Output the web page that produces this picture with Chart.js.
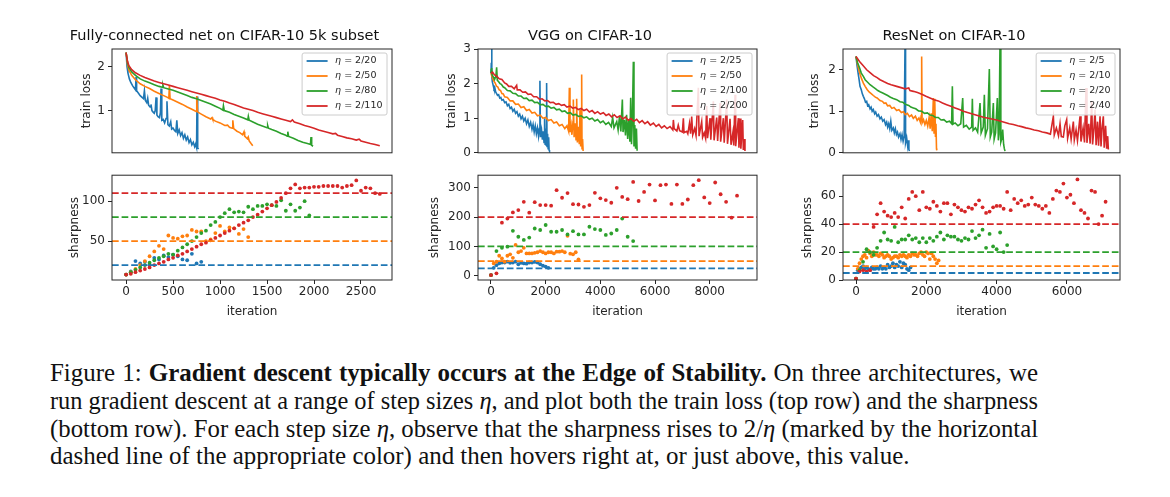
<!DOCTYPE html>
<html lang="en">
<head>
<meta charset="UTF-8">
<meta name="viewport" content="width=device-width, initial-scale=1.0">
<title>Figure 1: Edge of Stability</title>
<script src="https://cdn.jsdelivr.net/npm/chart.js@4.4.1/dist/chart.umd.min.js"></script>
<style>
    html, body { margin: 0; padding: 0; background: #fff; }
    body { width: 1170px; height: 497px; position: relative; overflow: hidden; }
    canvas.panel { position: absolute; }
    #caption {
        position: absolute; left: 50px; top: 359px; width: 1100px;
        font-family: "Liberation Serif", "Times New Roman", serif;
        font-size: 20px; line-height: 27.8px; color: #111;
    }
    #caption .ln { white-space: nowrap; }
    #caption .ln > span { display: inline-block; transform-origin: 0 50%; }
</style>
</head>
<body>

<canvas class="panel" id="fcLoss"></canvas>
<canvas class="panel" id="vggLoss"></canvas>
<canvas class="panel" id="resLoss"></canvas>
<canvas class="panel" id="fcSharp"></canvas>
<canvas class="panel" id="vggSharp"></canvas>
<canvas class="panel" id="resSharp"></canvas>

<div id="caption">
    <div class="ln"><span>Figure 1: <b>Gradient descent typically occurs at the Edge of Stability.</b> On three architectures, we</span></div>
    <div class="ln"><span>run gradient descent at a range of step sizes <i>η</i>, and plot both the train loss (top row) and the sharpness</span></div>
    <div class="ln"><span>(bottom row). For each step size <i>η</i>, observe that the sharpness rises to 2/<i>η</i> (marked by the horizontal</span></div>
    <div class="ln"><span>dashed line of the appropriate color) and then hovers right at, or just above, this value.</span></div>
</div>

<script>
    // ---------------- data ----------------
    // step sizes and the 2/eta thresholds
    const etaFC  = ['2/20', '2/50', '2/80', '2/110'];
    const etaVGG = ['2/25', '2/50', '2/100', '2/200'];
    const etaRes = ['2/5', '2/10', '2/20', '2/40'];
    const edgeFC  = [20, 50, 80, 110];
    const edgeVGG = [25, 50, 100, 200];
    const edgeRes = [5, 10, 20, 40];

    // tick labels
    const fcLossTicks  = [1, 2];
    const fcSharpTicks = [50, 100];
    const fcIterTicks  = [0, 500, 1000, 1500, 2000, 2500];
    const vggLossTicks  = [0, 1, 2, 3];
    const vggSharpTicks = [0, 100, 200, 300];
    const vggIterTicks  = [0, 2000, 4000, 6000, 8000];
    const resLossTicks  = [0, 1, 2];
    const resSharpTicks = [0, 20, 40, 60];
    const resIterTicks  = [0, 2000, 4000, 6000];

    // train loss curves, [iteration, loss]
    const fcLoss20 = [[0,2.32],[10,2.0],[20,1.85],[35,1.72],[50,1.64],[70,1.56],[90,1.50],[100,1.47],[106,1.76],[112,1.45],[130,1.40],[150,1.34],[170,1.30],[185,1.27],[195,1.45],[205,1.23],[220,1.18],[230,1.28],[240,1.12],[255,1.08],[265,1.14],[275,1.00],[290,0.96],[300,0.94],[310,1.00],[319,1.30],[328,0.90],[340,0.86],[355,0.84],[365,0.95],[372,1.50],[380,0.78],[395,0.80],[410,0.72],[425,0.82],[435,1.21],[445,0.68],[460,0.65],[475,0.75],[485,0.58],[500,0.60],[515,0.55],[530,0.52],[540,0.78],[550,0.48],[565,0.56],[580,0.43],[595,0.50],[610,0.37],[625,0.45],[640,0.33],[655,0.40],[670,0.27],[685,0.34],[700,0.22],[715,0.28],[730,0.18],[740,0.24],[750,0.16],[755,1.32],[762,0.15],[773,0.13]];
    const fcLoss50 = [[0,2.32],[15,2.05],[30,1.92],[60,1.80],[100,1.70],[150,1.61],[200,1.55],[250,1.50],[300,1.44],[350,1.39],[400,1.34],[440,1.30],[455,1.28],[461,1.58],[468,1.27],[500,1.24],[550,1.19],[600,1.14],[650,1.08],[700,1.03],[745,0.98],[752,1.33],[760,0.97],[800,0.92],[850,0.86],[900,0.81],[915,0.84],[922,0.80],[950,0.76],[1000,0.72],[1050,0.66],[1080,0.67],[1100,0.62],[1130,0.60],[1136,0.78],[1145,0.59],[1180,0.53],[1210,0.50],[1240,0.45],[1255,0.52],[1262,0.42],[1290,0.36],[1300,0.40],[1310,0.31],[1330,0.25],[1348,0.20]];
    const fcLoss80 = [[0,2.32],[15,2.10],[30,1.98],[60,1.88],[100,1.80],[150,1.72],[200,1.67],[250,1.63],[300,1.59],[350,1.55],[385,1.53],[392,1.58],[400,1.52],[450,1.49],[500,1.46],[550,1.42],[600,1.38],[650,1.34],[700,1.30],[750,1.27],[800,1.23],[850,1.19],[900,1.15],[950,1.10],[1000,1.05],[1030,1.01],[1036,1.11],[1045,1.00],[1100,0.96],[1150,0.91],[1200,0.87],[1250,0.83],[1295,0.79],[1301,0.87],[1310,0.78],[1350,0.74],[1400,0.69],[1450,0.65],[1500,0.61],[1507,0.66],[1515,0.60],[1550,0.57],[1600,0.53],[1650,0.48],[1700,0.44],[1715,0.42],[1721,0.52],[1730,0.41],[1780,0.37],[1830,0.32],[1880,0.28],[1930,0.25],[1962,0.23],[1968,0.40],[1975,0.21],[1990,0.19]];
    const fcLoss110 = [[0,2.32],[15,2.12],[30,2.02],[60,1.93],[100,1.86],[150,1.80],[200,1.75],[250,1.71],[300,1.67],[350,1.64],[400,1.61],[450,1.58],[500,1.55],[550,1.52],[600,1.49],[650,1.46],[700,1.43],[750,1.40],[800,1.37],[850,1.34],[900,1.31],[950,1.28],[1000,1.24],[1050,1.21],[1100,1.17],[1150,1.14],[1200,1.10],[1250,1.06],[1300,1.03],[1350,1.00],[1400,0.96],[1450,0.93],[1500,0.90],[1550,0.87],[1600,0.84],[1650,0.81],[1700,0.78],[1750,0.75],[1770,0.79],[1790,0.74],[1850,0.70],[1900,0.66],[1950,0.63],[2000,0.60],[2050,0.56],[2100,0.53],[2150,0.50],[2200,0.47],[2230,0.48],[2250,0.44],[2300,0.41],[2350,0.38],[2400,0.36],[2450,0.33],[2480,0.35],[2500,0.31],[2550,0.28],[2600,0.25],[2650,0.23],[2700,0.20]];

    const vggLoss25 = [[0,2.30],[12,2.6],[24,3.05],[36,2.2],[50,2.05],[80,1.95],[110,1.85],[140,1.88],[170,1.76],[200,1.72],[240,1.66],[280,1.68],[320,1.58],[360,1.60],[400,1.52],[450,1.54],[500,1.45],[550,1.47],[600,1.36],[650,1.40],[700,1.28],[750,1.32],[800,1.20],[850,1.26],[900,1.14],[950,1.19],[1000,1.06],[1050,1.12],[1100,0.98],[1150,1.06],[1200,0.92],[1250,1.00],[1300,0.84],[1350,0.95],[1400,0.76],[1450,0.88],[1500,0.68],[1540,0.82],[1580,0.60],[1620,0.78],[1660,0.55],[1700,0.72],[1740,0.48],[1770,0.70],[1790,2.08],[1810,0.45],[1850,0.65],[1880,0.38],[1910,0.62],[1940,0.30],[1960,1.0],[1980,0.25],[2000,0.70],[2020,0.22],[2035,2.02],[2050,0.18],[2070,0.55],[2090,0.12],[2110,0.45],[2125,0.08],[2140,0.05]];
    const vggLoss50 = [[0,2.30],[50,2.18],[100,2.08],[150,2.02],[200,1.93],[250,1.90],[300,1.82],[350,1.80],[400,1.71],[450,1.70],[500,1.62],[600,1.60],[700,1.50],[800,1.50],[900,1.40],[1000,1.41],[1100,1.31],[1200,1.33],[1300,1.22],[1400,1.25],[1500,1.15],[1600,1.17],[1700,1.07],[1800,1.09],[1900,1.00],[2000,1.02],[2100,0.93],[2200,0.96],[2300,0.86],[2400,0.89],[2500,0.78],[2600,0.82],[2700,0.70],[2780,0.78],[2840,0.62],[2866,1.88],[2890,0.60],[2930,0.80],[2960,0.52],[3000,0.90],[3012,1.54],[3040,0.45],[3080,0.85],[3110,0.38],[3134,1.56],[3160,0.30],[3200,0.75],[3230,0.25],[3256,1.25],[3280,0.18],[3300,0.60],[3317,2.26],[3330,0.12],[3350,0.40],[3370,0.05]];
    const vggLoss100 = [[0,2.30],[12,2.40],[24,2.45],[40,2.25],[80,2.20],[130,2.12],[180,2.22],[207,2.47],[230,2.10],[280,2.05],[330,2.00],[380,1.98],[451,1.90],[500,1.88],[600,1.80],[700,1.79],[800,1.72],[900,1.71],[1000,1.64],[1100,1.64],[1200,1.57],[1300,1.58],[1400,1.51],[1500,1.52],[1600,1.45],[1700,1.46],[1800,1.39],[1900,1.40],[2000,1.34],[2100,1.35],[2200,1.29],[2300,1.31],[2400,1.24],[2500,1.26],[2600,1.19],[2700,1.21],[2800,1.14],[2900,1.16],[3000,1.09],[3100,1.11],[3200,1.05],[3300,1.07],[3400,1.01],[3500,1.04],[3600,0.97],[3700,1.00],[3800,0.92],[3900,0.96],[4000,0.87],[4100,0.92],[4200,0.82],[4300,0.88],[4400,0.76],[4450,1.02],[4500,0.72],[4600,0.90],[4650,0.66],[4700,1.05],[4750,0.62],[4805,1.54],[4830,0.60],[4880,0.95],[4920,0.50],[4960,1.10],[5000,0.40],[5040,0.95],[5080,0.32],[5110,1.59],[5140,0.25],[5170,0.90],[5207,2.63],[5230,0.18],[5260,0.80],[5290,0.12],[5320,0.70],[5345,0.06]];
    const vggLoss200 = [[0,2.30],[60,2.33],[120,2.26],[200,2.22],[300,2.14],[400,2.12],[500,2.02],[570,1.99],[650,1.92],[750,1.92],[850,1.85],[939,1.95],[960,1.82],[1060,1.82],[1160,1.75],[1260,1.76],[1360,1.69],[1460,1.70],[1560,1.62],[1670,1.62],[1770,1.55],[1870,1.56],[1970,1.50],[2070,1.51],[2170,1.45],[2280,1.46],[2380,1.40],[2480,1.42],[2580,1.37],[2680,1.39],[2780,1.32],[2890,1.35],[2990,1.29],[3090,1.31],[3190,1.25],[3300,1.28],[3400,1.22],[3500,1.26],[3600,1.18],[3700,1.22],[3800,1.14],[3900,1.19],[4000,1.12],[4110,1.16],[4210,1.08],[4310,1.12],[4410,1.04],[4510,1.10],[4610,1.02],[4720,1.07],[4820,0.98],[4920,1.03],[5020,0.94],[5120,0.99],[5220,0.91],[5330,0.97],[5430,0.87],[5530,0.93],[5630,0.84],[5730,0.90],[5830,0.80],[5940,0.86],[6040,0.76],[6140,0.82],[6240,0.72],[6340,0.78],[6440,0.70],[6549,0.76],[6650,0.66],[6671,0.95],[6700,0.70],[6800,0.63],[6850,0.80],[6900,0.64],[7000,0.60],[7037,1.00],[7060,0.58],[7159,0.62],[7200,0.55],[7260,0.85],[7300,0.55],[7341,1.05],[7380,0.52],[7450,0.70],[7500,0.50],[7585,1.88],[7610,0.48],[7707,0.90],[7740,0.45],[7800,0.58],[7850,0.42],[7890,1.35],[7920,0.42],[8012,1.00],[8040,0.38],[8134,1.49],[8160,0.36],[8256,1.02],[8290,0.34],[8378,1.44],[8400,0.32],[8500,1.00],[8530,0.29],[8622,1.54],[8650,0.26],[8744,0.98],[8780,0.23],[8850,0.60],[8880,0.21],[8927,1.68],[8950,0.19],[9049,1.00],[9070,0.15],[9110,0.99],[9140,0.12],[9207,0.95],[9230,0.08],[9260,0.40],[9290,0.05]];

    const resLoss5 = [[0,2.32],[30,2.10],[60,1.92],[90,1.75],[114,1.60],[150,1.52],[180,1.42],[209,1.36],[240,1.30],[270,1.22],[303,1.24],[330,1.14],[360,1.16],[400,1.06],[430,1.10],[460,1.00],[493,1.04],[530,0.94],[560,0.98],[600,0.88],[640,0.92],[683,0.82],[720,0.86],[760,0.76],[800,0.80],[840,0.68],[872,0.74],[900,0.62],[930,0.70],[960,0.58],[990,0.76],[1020,0.54],[1062,0.60],[1090,0.48],[1120,0.58],[1150,0.44],[1180,0.50],[1210,0.38],[1250,0.46],[1280,0.32],[1310,0.44],[1340,0.28],[1370,0.40],[1394,2.60],[1410,0.24],[1441,0.36],[1470,0.16],[1490,0.30],[1505,0.08],[1519,0.04]];
    const resLoss10 = [[0,2.32],[40,2.15],[80,2.00],[120,1.88],[160,1.78],[209,1.68],[260,1.60],[320,1.52],[380,1.46],[440,1.42],[493,1.38],[550,1.34],[600,1.32],[683,1.26],[750,1.24],[800,1.19],[850,1.20],[900,1.13],[960,1.14],[1020,1.07],[1080,1.09],[1157,1.02],[1220,1.04],[1290,0.97],[1350,0.99],[1400,0.92],[1460,0.95],[1520,0.87],[1580,0.91],[1631,0.83],[1690,0.88],[1740,0.78],[1790,0.84],[1830,0.74],[1855,0.90],[1868,2.32],[1880,0.72],[1920,0.80],[1960,0.68],[2000,0.78],[2040,0.64],[2080,0.85],[2110,0.58],[2140,0.95],[2170,0.52],[2200,1.32],[2220,0.48],[2240,1.30],[2260,0.40],[2275,0.70],[2290,0.10],[2297,0.06]];
    const resLoss20 = [[0,2.32],[40,2.18],[100,2.05],[150,1.92],[209,1.84],[260,1.76],[330,1.70],[400,1.64],[493,1.58],[560,1.54],[620,1.50],[683,1.47],[760,1.44],[830,1.41],[900,1.38],[980,1.34],[1060,1.31],[1157,1.28],[1250,1.23],[1330,1.22],[1400,1.17],[1500,1.14],[1560,1.10],[1631,1.08],[1700,1.06],[1780,1.01],[1870,1.00],[1950,0.95],[2030,0.96],[2105,0.91],[2180,0.90],[2260,0.85],[2340,0.85],[2420,0.79],[2500,0.80],[2579,0.74],[2660,0.76],[2720,0.70],[2741,1.60],[2760,0.69],[2820,0.72],[2900,0.65],[2980,0.70],[3035,1.32],[3060,0.62],[3140,0.66],[3220,0.57],[3290,0.62],[3310,1.30],[3330,0.54],[3400,0.60],[3460,0.50],[3528,1.20],[3560,0.48],[3620,0.62],[3651,1.40],[3680,0.42],[3740,0.58],[3793,2.02],[3820,0.38],[3860,0.50],[3907,1.20],[3930,0.33],[3970,0.48],[4021,1.32],[4050,0.30],[4070,0.45],[4097,2.70],[4120,0.26],[4150,0.35],[4173,0.56],[4200,0.20],[4220,0.10],[4239,0.04]];
    const resLoss40 = [[0,2.32],[100,2.20],[200,2.10],[303,2.00],[400,1.93],[500,1.86],[600,1.81],[683,1.76],[800,1.71],[900,1.67],[1000,1.64],[1157,1.60],[1280,1.57],[1400,1.54],[1500,1.56],[1536,1.50],[1631,1.48],[1750,1.45],[1870,1.41],[1990,1.36],[2105,1.32],[2220,1.28],[2340,1.25],[2460,1.20],[2579,1.16],[2700,1.12],[2820,1.08],[2940,1.04],[3054,1.00],[3170,0.97],[3290,0.94],[3410,0.91],[3528,0.88],[3650,0.85],[3770,0.83],[3890,0.81],[4002,0.79],[4120,0.76],[4240,0.73],[4360,0.70],[4476,0.68],[4600,0.65],[4710,0.63],[4830,0.60],[4950,0.58],[5070,0.55],[5190,0.53],[5300,0.50],[5424,0.48],[5530,0.45],[5614,0.88],[5640,0.43],[5700,0.60],[5760,0.41],[5804,0.70],[5840,0.39],[5898,0.38],[5940,0.65],[5993,0.80],[6020,0.35],[6080,0.60],[6120,0.33],[6183,0.75],[6210,0.31],[6260,0.55],[6300,0.29],[6373,0.88],[6400,0.27],[6460,0.60],[6500,0.25],[6543,1.56],[6570,0.24],[6620,0.70],[6660,0.22],[6705,1.24],[6730,0.20],[6770,0.60],[6800,1.04],[6830,0.18],[6870,0.75],[6900,0.17],[6942,0.88],[6970,0.15],[7000,0.60],[7036,0.88],[7060,0.12],[7100,0.65],[7130,0.10],[7160,0.40],[7179,0.08]];

    // sharpness, measured every few iterations
    const fcIter = [0,50,100,150,200,250,300,350,400,450,500,550,600,650,700,750,800,850,900,950,1000,1050,1100,1150,1200,1250,1300,1350,1400,1450,1500,1550,1600,1650,1700,1750,1800,1850,1900,1950,2000,2050,2100,2150,2200,2250,2300,2350,2400,2450,2500,2550,2600,2650,2700];
    const fcSharp20  = [8, 12, 25, 22, 24, 20, 29, 27, 32, 30, 33, 31, 27, 26, 34, 22, 24];
    const fcSharp50  = [8, 11, 15, 20, 25, 31, 37, 44, 40, 57, 54, 53, 56, 57, 64, 62, 62, 50, 52, 60, 69, 62, 67, 66, 59, 65, 55];
    const fcSharp80  = [8, 11, 14, 17, 20, 23, 26, 29, 31, 34, 33, 38, 42, 46, 50, 55, 60, 63, 70, 74, 80, 85, 90, 86, 87, 86, 93, 90, 94, 94, 96, 95, 94, 101, 88, 96, 88, 92, 100, 82];
    const fcSharp110 = [8, 9, 11, 13, 15, 17, 20, 22, 24, 27, 29, 32, 34, 37, 40, 43, 46, 48, 51, 54, 57, 60, 63, 66, 70, 73, 76, 80, 83, 87, 91, 95, 99, 104, 110, 116, 121, 116, 117, 117, 118, 118, 119, 119, 119, 119, 117, 119, 120, 126, 113, 117, 116, 110, 109];

    const vggIterFine   = [0,100,200,300,400,500,600,700,800,900,1000,1100,1200,1300,1400,1500,1600,1700,1800,1900,2000,2100,2200,2300,2400,2500,2600,2700,2800,2900,3000,3100,3200];
    const vggIterCoarse = [0,200,400,600,800,1000,1200,1400,1600,1800,2000,2200,2400,2600,2800,3000,3200,3400,3600,3800,4000,4200,4400,4600,4800,5000,5200,5400,5600,5800,6000,6200,6400,6600,6800,7000,7200,7400,7600,7800,8000,8200,8400,8600,8800,9000,9200];
    const vggSharp25  = [2, 27, 36, 42, 45, 45, 48, 44, 45, 48, 39, 44, 42, 41, 45, 45, 47, 45, 39, 34, 31, 27];
    const vggSharp50  = [2, 42, 48, 68, 59, 48, 68, 73, 61, 105, 80, 84, 95, 76, 76, 76, 78, 80, 84, 80, 76, 80, 80, 76, 82, 82, 84, 80, 136, 75, 73, 80, 56];
    const vggSharp100 = [2, 84, 95, 99, 153, 133, 122, 130, 161, 156, 173, 150, 150, 156, 141, 152, 141, 141, 167, 159, 156, 139, 144, 156, 195, 133, 118];
    const vggSharp200 = [2, 8, 181, 195, 216, 224, 252, 215, 251, 241, 241, 239, 292, 266, 282, 244, 243, 235, 241, 283, 264, 258, 249, 300, 269, 261, 320, 255, 286, 311, 257, 309, 311, 245, 311, 245, 260, 309, 326, 267, 248, 318, 278, 252, 198, 273];

    const resIterFine   = [0,50,100,150,200,250,300,350,400,450,500,550,600,650,700,750,800,850,900,950,1000,1050,1100,1150,1200,1250,1300,1350,1400,1450,1500,1550,1600,1650,1700,1750,1800,1850,1900,1950,2000,2050,2100,2150,2200,2250,2300,2350];
    const resIterCoarse = [0,100,200,300,400,500,600,700,800,900,1000,1100,1200,1300,1400,1500,1600,1700,1800,1900,2000,2100,2200,2300,2400,2500,2600,2700,2800,2900,3000,3100,3200,3300,3400,3500,3600,3700,3800,3900,4000,4100,4200,4300,4400,4500,4600,4700,4800,4900,5000,5100,5200,5300,5400,5500,5600,5700,5800,5900,6000,6100,6200,6300,6400,6500,6600,6700,6800,6900,7000,7100];
    const resSharp5  = [1, 7, 8, 9, 10, 8, 9, 8, 7, 9, 8, 8, 9, 8, 10, 8, 9, 8, 11, 9, 10, 12, 9, 11, 10, 13, 9, 12, 11, 8, 7, 9];
    const resSharp10 = [1, 8, 12, 15, 17, 18, 16, 21, 19, 17, 20, 18, 18, 17, 19, 18, 16, 17, 18, 17, 15, 16, 17, 17, 16, 18, 17, 18, 17, 16, 18, 17, 19, 18, 18, 17, 19, 20, 18, 17, 20, 19, 15, 19, 17, 15, 12, 14];
    const resSharp20 = [1, 7, 13, 22, 20, 18, 23, 28, 34, 29, 28, 38, 27, 29, 29, 32, 29, 30, 27, 30, 27, 30, 28, 31, 34, 29, 32, 31, 31, 29, 28, 30, 29, 35, 30, 32, 36, 23, 33, 24, 22, 34, 20, 25];
    const resSharp40 = [1, 6, 7, 6, 7, 38, 47, 55, 49, 46, 45, 48, 45, 52, 44, 58, 63, 60, 50, 63, 52, 51, 56, 53, 49, 55, 55, 47, 54, 52, 50, 49, 52, 51, 54, 57, 52, 48, 49, 52, 53, 53, 51, 63, 50, 58, 55, 57, 53, 54, 59, 54, 53, 51, 53, 48, 58, 64, 63, 69, 59, 61, 55, 72, 50, 48, 44, 64, 63, 40, 46, 56];

    // ---------------- styling / helpers ----------------
    const COLORS = ['#1f77b4', '#ff7f0e', '#2ca02c', '#d62728'];
    const FONT = 'DejaVu Sans';
    const INK = '#262626';
    const SIDE = 55;            // room for the y axis (mirrored on the right so titles center on the plot)

    // plot rectangles in page pixels
    const COLS = [[112, 392], [478, 757], [843, 1120]];
    const TOP_ROW = [49, 153];
    const BOTTOM_ROW = [175, 280];

    function useTicks(list) {
        return function (scale) { scale.ticks = list.map(v => ({ value: v })); };
    }

    function yAxis(range, ticks, label, labelPad) {
        return {
            type: 'linear', position: 'left', min: range[0], max: range[1],
            afterBuildTicks: useTicks(ticks),
            afterFit: s => { s.width = SIDE; },
            grid: { drawOnChartArea: false, drawTicks: true, tickLength: 4, tickColor: INK, tickWidth: 1 },
            border: { display: false },
            ticks: { color: INK, font: { family: FONT, size: 12 }, padding: 3, callback: v => String(v) },
            title: { display: true, text: label, color: INK, font: { family: FONT, size: 12 },
                     padding: { top: labelPad, bottom: 0 } }
        };
    }

    function xAxis(range, ticks) {
        if (!ticks) return { type: 'linear', display: false, min: range[0], max: range[1] };
        return {
            type: 'linear', position: 'bottom', min: range[0], max: range[1],
            afterBuildTicks: useTicks(ticks),
            afterFit: s => { s.height = 40; },
            grid: { drawOnChartArea: false, drawTicks: true, tickLength: 4, tickColor: INK, tickWidth: 1 },
            border: { display: false },
            ticks: { color: INK, font: { family: FONT, size: 12 }, padding: 1, maxRotation: 0, autoSkip: false,
                     callback: v => String(v) },
            title: { display: true, text: 'iteration', color: INK, font: { family: FONT, size: 12 },
                     padding: { top: 0, bottom: 1 } }
        };
    }

    // axes box drawn on all four sides
    const framePlugin = {
        id: 'frame',
        afterDatasetsDraw(chart) {
            const a = chart.chartArea, ctx = chart.ctx;
            ctx.save();
            ctx.strokeStyle = INK;
            ctx.lineWidth = 1;
            ctx.strokeRect(a.left, a.top, a.right - a.left, a.bottom - a.top);
            ctx.restore();
        }
    };

    // matplotlib-like legend in the upper right corner of the axes
    const etaLegendPlugin = {
        id: 'etaLegend',
        afterDraw(chart) {
            const items = chart.data.datasets.filter(d => d.etaLabel);
            if (!items.length) return;
            const ctx = chart.ctx, a = chart.chartArea;
            const fs = 9.5;
            ctx.save();
            ctx.font = 'italic ' + fs + 'px "' + FONT + '"';
            const etaW = ctx.measureText('η').width;
            ctx.font = fs + 'px "' + FONT + '"';
            let textW = 0;
            items.forEach(d => { textW = Math.max(textW, etaW + ctx.measureText(' = ' + d.etaLabel).width); });
            const w = 4.5 + 21 + 7.5 + textW + 4.5;
            const h = 8 + 15 * (items.length - 1) + 9;
            const x = a.right - 5 - w, y = a.top + 4;
            ctx.beginPath();
            if (ctx.roundRect) ctx.roundRect(x, y, w, h, 2); else ctx.rect(x, y, w, h);
            ctx.fillStyle = 'rgba(255,255,255,0.85)';
            ctx.fill();
            ctx.strokeStyle = '#cccccc';
            ctx.lineWidth = 1;
            ctx.stroke();
            ctx.textBaseline = 'middle';
            items.forEach((d, i) => {
                const ly = y + 8 + 15 * i;
                ctx.strokeStyle = d.borderColor;
                ctx.lineWidth = 1.8;
                ctx.beginPath();
                ctx.moveTo(x + 4.5, ly);
                ctx.lineTo(x + 25.5, ly);
                ctx.stroke();
                ctx.fillStyle = INK;
                ctx.font = 'italic ' + fs + 'px "' + FONT + '"';
                ctx.fillText('η', x + 33, ly);
                ctx.font = fs + 'px "' + FONT + '"';
                ctx.fillText(' = ' + d.etaLabel, x + 33 + etaW, ly);
            });
            ctx.restore();
        }
    };

    function lossSets(curves, etas) {
        return curves.map((c, i) => ({
            etaLabel: etas[i],
            data: c.map(p => ({ x: p[0], y: p[1] })),
            showLine: true, pointRadius: 0, borderWidth: 1.6,
            borderColor: COLORS[i], backgroundColor: COLORS[i],
            order: 4 - i
        }));
    }

    function sharpSets(iters, values, edges, xr) {
        const dots = values.map((vals, i) => ({
            data: vals.map((v, k) => ({ x: iters[i][k], y: v })),
            showLine: false, pointRadius: 1.9, pointBorderWidth: 0, pointHoverRadius: 0,
            backgroundColor: COLORS[i], borderColor: COLORS[i],
            order: 8 - i
        }));
        const lines = edges.map((e, i) => ({
            data: [{ x: xr[0], y: e }, { x: xr[1], y: e }],
            showLine: true, pointRadius: 0, borderWidth: 1.8, borderDash: [6.7, 2.9],
            borderColor: COLORS[i], backgroundColor: COLORS[i],
            order: 4 - i
        }));
        return dots.concat(lines);
    }

    function makePanel(id, col, row, cfg) {
        const [l, r] = COLS[col];
        const [t, b] = row === 0 ? TOP_ROW : BOTTOM_ROW;
        const padTop = row === 0 ? 0 : 10;
        const headH = row === 0 ? 30 : 0;
        const footH = row === 0 ? 10 : 40;
        const canvas = document.getElementById(id);
        canvas.width = SIDE + (r - l) + SIDE;
        canvas.height = padTop + headH + (b - t) + footH;
        canvas.style.left = (l - SIDE) + 'px';
        canvas.style.top = (t - padTop - headH) + 'px';

        return new Chart(canvas, {
            type: 'scatter',
            data: { datasets: cfg.datasets },
            options: {
                responsive: false,
                animation: false,
                events: [],
                layout: { padding: { left: 0, right: SIDE, top: padTop, bottom: row === 0 ? footH : 0 } },
                scales: { x: cfg.x, y: cfg.y },
                plugins: {
                    legend: { display: false },
                    tooltip: { enabled: false },
                    title: cfg.title ? {
                        display: true, text: cfg.title, color: '#111',
                        font: { family: FONT, size: 14.5, weight: 'normal' },
                        padding: { top: 8.5, bottom: 4.1 }
                    } : { display: false }
                }
            },
            plugins: [framePlugin, etaLegendPlugin]
        });
    }

    // ---------------- panels ----------------
    const fcX  = [-150, 2830];
    const vggX = [-475, 9730];
    const resX = [-370, 7510];

    makePanel('fcLoss', 0, 0, {
        title: 'Fully-connected net on CIFAR-10 5k subset',
        datasets: lossSets([fcLoss20, fcLoss50, fcLoss80, fcLoss110], etaFC),
        x: xAxis(fcX, null),
        y: yAxis([0.04, 2.40], fcLossTicks, 'train loss', 22.5)
    });
    makePanel('vggLoss', 1, 0, {
        title: 'VGG on CIFAR-10',
        datasets: lossSets([vggLoss25, vggLoss50, vggLoss100, vggLoss200], etaVGG),
        x: xAxis(vggX, null),
        y: yAxis([0, 3], vggLossTicks, 'train loss', 21.5)
    });
    makePanel('resLoss', 2, 0, {
        title: 'ResNet on CIFAR-10',
        datasets: lossSets([resLoss5, resLoss10, resLoss20, resLoss40], etaRes),
        x: xAxis(resX, null),
        y: yAxis([0, 2.5], resLossTicks, 'train loss', 19.8)
    });

    makePanel('fcSharp', 0, 1, {
        datasets: sharpSets([fcIter, fcIter, fcIter, fcIter],
                            [fcSharp20, fcSharp50, fcSharp80, fcSharp110], edgeFC, fcX),
        x: xAxis(fcX, fcIterTicks),
        y: yAxis([1.25, 132.5], fcSharpTicks, 'sharpness', 10.8)
    });
    makePanel('vggSharp', 1, 1, {
        datasets: sharpSets([vggIterFine, vggIterFine, vggIterCoarse, vggIterCoarse],
                            [vggSharp25, vggSharp50, vggSharp100, vggSharp200], edgeVGG, vggX),
        x: xAxis(vggX, vggIterTicks),
        y: yAxis([-14.7, 343], vggSharpTicks, 'sharpness', 4.8)
    });
    makePanel('resSharp', 2, 1, {
        datasets: sharpSets([resIterFine, resIterFine, resIterCoarse, resIterCoarse],
                            [resSharp5, resSharp10, resSharp20, resSharp40], edgeRes, resX),
        x: xAxis(resX, resIterTicks),
        y: yAxis([0, 75], resSharpTicks, 'sharpness', 13.1)
    });

    // ---------------- caption layout ----------------
    // size the font so the last (ragged) line has the reference width, then fit the
    // three justified lines to 988px: squeeze slightly if too long, widen the gaps if short.
    (function () {
        const cap = document.getElementById('caption');
        const spans = Array.from(cap.querySelectorAll('.ln > span'));
        const base = 20;
        cap.style.fontSize = base + 'px';
        const lastW = spans[3].getBoundingClientRect().width;
        if (lastW > 0) cap.style.fontSize = (base * 860 / lastW).toFixed(2) + 'px';
        spans.slice(0, 3).forEach(s => {
            const w = s.getBoundingClientRect().width;
            const gaps = s.textContent.split(' ').length - 1;
            if (w > 988) {
                s.style.transform = 'scaleX(' + (988 / w).toFixed(4) + ')';
            } else if (gaps > 0) {
                s.style.wordSpacing = ((988 - w) / gaps).toFixed(3) + 'px';
            }
        });
    })();
</script>
</body>
</html>
